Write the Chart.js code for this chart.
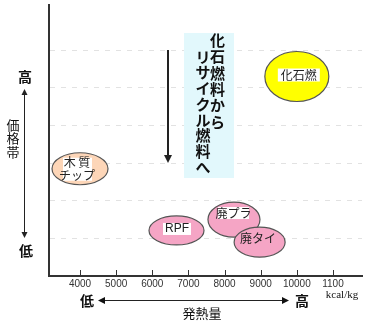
<!DOCTYPE html>
<html>
<head>
<meta charset="utf-8">
<script src="https://cdn.jsdelivr.net/npm/chart.js@4.4.1/dist/chart.umd.min.js"></script>
<style>
  html, body { margin: 0; padding: 0; background: #fff; }
  #wrap { width: 365px; height: 324px; }
</style>
</head>
<body>
<div id="wrap"><canvas id="chart"></canvas></div>
<script>
// 燃料ごとの発熱量と価格帯
const fuels = ['化石燃', '木 質\nチップ', 'RPF', '廃プラ', '廃タイ']
const heatValues = [10000, 4000, 6670, 8260, 8970]   // kcal/kg
const priceBand = [5.3, 2.85, 1.21, 1.5, 0.9]       // 低 → 高
const xTickValues = [4000, 5000, 6000, 7000, 8000, 9000, 10000, 11000]
const xTickLabels = ['4000', '5000', '6000', '7000', '8000', '9000', '10000', '1100']

// 楕円の見た目
const bubbleStyle = [
  { fill: '#ffff00', rx: 32, ry: 25, box: [-19, -8, 42, 13], text: [2, -1.5] },
  { fill: '#fdd6b8', rx: 28, ry: 16, box: [-17, -11, 29, 23], text: [-3, 0] },
  { fill: '#f5a5c5', rx: 27.5, ry: 14.5, box: [-13.5, -7.5, 28, 12], text: [0.5, -1.5] },
  { fill: '#f5a5c5', rx: 26, ry: 17.5, box: [-16, -12.5, 31, 12], text: [-0.5, -6.5] },
  { fill: '#f5a5c5', rx: 25.5, ry: 15, box: null, text: [-1.5, -4] }
]

const JP = '"Noto Sans CJK JP", sans-serif'

function arrowHead(ctx, x, y, dir, size) {
  // dir: 'up' | 'down' | 'left' | 'right'
  ctx.beginPath()
  if (dir === 'down') { ctx.moveTo(x, y); ctx.lineTo(x - size / 2, y - size); ctx.lineTo(x + size / 2, y - size) }
  if (dir === 'up') { ctx.moveTo(x, y); ctx.lineTo(x - size / 2, y + size); ctx.lineTo(x + size / 2, y + size) }
  if (dir === 'left') { ctx.moveTo(x, y); ctx.lineTo(x + size, y - size / 2); ctx.lineTo(x + size, y + size / 2) }
  if (dir === 'right') { ctx.moveTo(x, y); ctx.lineTo(x - size, y - size / 2); ctx.lineTo(x - size, y + size / 2) }
  ctx.closePath()
  ctx.fill()
}

function verticalText(ctx, str, x, y, step) {
  for (let i = 0; i < str.length; i++) {
    ctx.fillText(str[i], x, y + i * step)
  }
}

const decorPlugin = {
  id: 'decor',
  beforeDatasetsDraw(chart) {
    const ctx = chart.ctx
    ctx.save()
    // 「化石燃料からリサイクル燃料へ」
    ctx.fillStyle = '#e2f8fc'
    ctx.fillRect(184, 33, 50, 145)
    ctx.fillStyle = '#111'
    ctx.font = 'bold 15px ' + JP
    ctx.textAlign = 'center'
    ctx.textBaseline = 'middle'
    verticalText(ctx, '化石燃料から', 217.5, 40, 16.4)
    verticalText(ctx, 'リサイクル燃料へ', 203, 57, 15.7)
    // 下向き矢印
    ctx.strokeStyle = '#222'
    ctx.fillStyle = '#222'
    ctx.lineWidth = 2
    ctx.beginPath()
    ctx.moveTo(168, 50)
    ctx.lineTo(168, 156)
    ctx.stroke()
    arrowHead(ctx, 168, 163, 'down', 8)
    ctx.restore()
  },
  afterDatasetsDraw(chart) {
    const ctx = chart.ctx
    const meta = chart.getDatasetMeta(0)
    meta.data.forEach((pt, i) => {
      const s = bubbleStyle[i]
      ctx.save()
      ctx.beginPath()
      ctx.ellipse(pt.x, pt.y, s.rx, s.ry, 0, 0, Math.PI * 2)
      ctx.fillStyle = s.fill
      ctx.fill()
      ctx.lineWidth = 1.2
      ctx.strokeStyle = '#555'
      ctx.stroke()
      if (s.box) {
        ctx.fillStyle = '#fff'
        ctx.fillRect(pt.x + s.box[0], pt.y + s.box[1], s.box[2], s.box[3])
      }
      ctx.fillStyle = '#222'
      ctx.textAlign = 'center'
      ctx.textBaseline = 'middle'
      const lines = fuels[i].split('\n')
      ctx.font = (fuels[i] === 'RPF' ? '12px "Liberation Sans", sans-serif' : '12px ' + JP)
      lines.forEach((line, k) => {
        const dy = (k - (lines.length - 1) / 2) * 13
        ctx.fillText(line, pt.x + s.text[0], pt.y + s.text[1] + dy)
      })
      ctx.restore()
    })
  },
  afterDraw(chart) {
    const ctx = chart.ctx
    const x = chart.scales.x
    const area = chart.chartArea
    ctx.save()
    // 内向きの目盛り
    ctx.strokeStyle = '#333'
    ctx.lineWidth = 1
    xTickValues.forEach(v => {
      const px = Math.round(x.getPixelForValue(v)) + 0.5
      ctx.beginPath()
      ctx.moveTo(px, area.bottom)
      ctx.lineTo(px, area.bottom - 6)
      ctx.stroke()
    })

    ctx.fillStyle = '#111'
    ctx.textAlign = 'center'
    ctx.textBaseline = 'middle'
    // 縦軸ラベル
    ctx.font = 'bold 14px ' + JP
    ctx.fillText('高', 25, 77)
    ctx.fillText('低', 26, 251)
    ctx.font = '13px ' + JP
    verticalText(ctx, '価格帯', 13, 125, 13.5)
    ctx.strokeStyle = '#222'
    ctx.fillStyle = '#222'
    ctx.lineWidth = 1
    ctx.beginPath()
    ctx.moveTo(24.5, 94)
    ctx.lineTo(24.5, 232)
    ctx.stroke()
    arrowHead(ctx, 24.5, 89, 'up', 6)
    arrowHead(ctx, 24.5, 238, 'down', 6)

    // 横軸ラベル
    ctx.fillStyle = '#111'
    ctx.font = 'bold 14px ' + JP
    ctx.fillText('低', 87, 301)
    ctx.fillText('高', 302, 301)
    ctx.font = '13px ' + JP
    ctx.fillText('発熱量', 202, 313)
    ctx.font = '11px "Liberation Serif", serif'
    ctx.fillText('kcal/kg', 342, 295)
    ctx.beginPath()
    ctx.moveTo(104, 300.5)
    ctx.lineTo(283, 300.5)
    ctx.stroke()
    arrowHead(ctx, 98, 300.5, 'left', 7)
    arrowHead(ctx, 289, 300.5, 'right', 7)
    ctx.restore()
  }
}

new Chart(document.getElementById('chart'), {
  type: 'scatter',
  data: {
    labels: fuels,
    datasets: [{
      data: heatValues.map((v, i) => ({ x: v, y: priceBand[i] })),
      pointRadius: 0,
      pointHoverRadius: 0
    }]
  },
  options: {
    responsive: true,
    maintainAspectRatio: false,
    animation: false,
    events: [],
    layout: { padding: { top: 5, right: 3, left: 0, bottom: 0 } },
    plugins: {
      legend: { display: false },
      tooltip: { enabled: false }
    },
    scales: {
      x: {
        type: 'linear',
        min: 3142,
        max: 11803,
        afterBuildTicks: scale => { scale.ticks = xTickValues.map(v => ({ value: v })) },
        afterFit: scale => { scale.height = 48 },
        grid: { color: 'rgba(0,0,0,0)', drawTicks: false },
        border: { display: true, color: '#333', width: 2 },
        ticks: {
          autoSkip: false,
          maxRotation: 0,
          padding: 2,
          color: '#333',
          font: { family: '"Liberation Sans", sans-serif', size: 10 },
          callback: v => xTickLabels[xTickValues.indexOf(v)]
        }
      },
      y: {
        min: 0,
        max: 7.2,
        afterFit: scale => { scale.width = 49 },
        grid: {
          drawTicks: false,
          color: c => (c.tick && c.tick.value >= 1 && c.tick.value <= 6) ? '#e2e2e2' : 'rgba(0,0,0,0)',
          lineWidth: 1
        },
        border: { display: true, color: '#333', width: 2, dash: [5, 6] },
        ticks: { display: false, stepSize: 1 }
      }
    }
  },
  plugins: [decorPlugin]
})
</script>
</body>
</html>
